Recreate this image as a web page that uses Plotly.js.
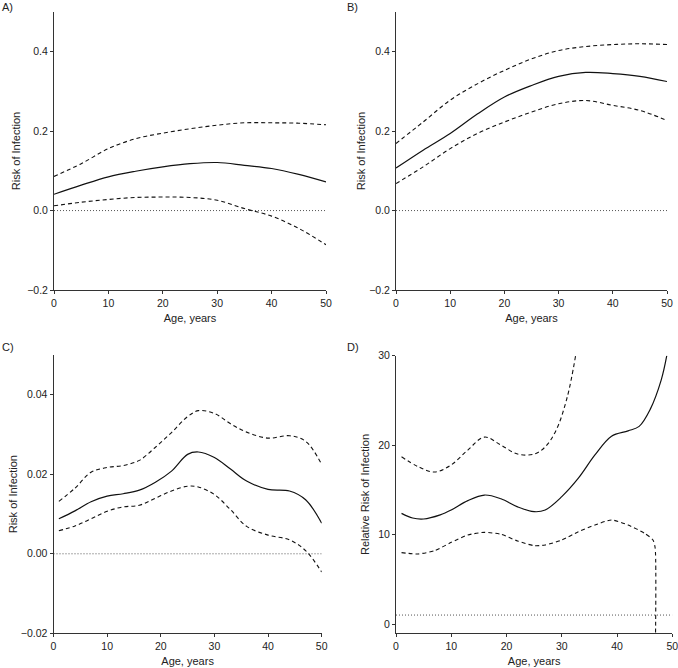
<!DOCTYPE html>
<html>
<head>
<meta charset="utf-8">
<script src="https://cdn.plot.ly/plotly-3.0.1.min.js"></script>
<style>html,body{margin:0;padding:0;background:#fff;}#chart{width:678px;height:668px;}</style>
</head>
<body>
<div id="chart"></div>
<script>
// ---- Panel A ----
const agesA = [0,5,10,15,20,25,30,35,40,45,50];
const estA  = [0.041,0.064,0.085,0.099,0.110,0.118,0.121,0.114,0.106,0.091,0.072];
const upA   = [0.086,0.118,0.156,0.181,0.195,0.206,0.215,0.221,0.221,0.220,0.216];
const loA   = [0.012,0.021,0.028,0.033,0.034,0.033,0.026,0.005,-0.014,-0.045,-0.086];
// ---- Panel B ----
const agesB = [0,5,10,15,20,25,30,35,40,45,50];
const estB  = [0.107,0.152,0.194,0.243,0.286,0.315,0.338,0.348,0.345,0.338,0.325];
const upB   = [0.169,0.223,0.278,0.319,0.353,0.382,0.403,0.413,0.418,0.420,0.418];
const loB   = [0.068,0.110,0.156,0.194,0.223,0.248,0.269,0.277,0.265,0.252,0.227];
// ---- Panel C ----
const agesC = [1,4,7,10,13,16,19,22,25,27,30,33,36,40,44,47,50];
const estC  = [0.0088,0.0108,0.0131,0.0145,0.0151,0.0160,0.0180,0.0208,0.0250,0.0256,0.0242,0.0213,0.0183,0.0162,0.0158,0.0136,0.0077];
const upC   = [0.0132,0.0165,0.0205,0.0217,0.0222,0.0235,0.0268,0.0305,0.0345,0.0360,0.0353,0.0327,0.0306,0.0291,0.0297,0.0283,0.0225];
const loC   = [0.0058,0.0070,0.0088,0.0107,0.0118,0.0122,0.0140,0.0158,0.0170,0.0168,0.0149,0.0111,0.0069,0.0047,0.0035,0.0008,-0.0046];
// ---- Panel D ----
const agesDest = [1,3,5,8,10,13,16,19,22,25,27,30,33,36,39,42,44,46,48,49];
const estD     = [12.37,11.85,11.74,12.2,12.75,13.8,14.42,14.0,13.1,12.56,12.75,14.24,16.3,18.9,21.0,21.6,22.1,24.0,27.3,30.0];
const agesDup  = [1,4,7,10,13,16,19,22,25,27,29,31,32.5];
const upD      = [18.7,17.6,17.0,17.8,19.45,20.9,20.0,19.0,19.0,19.8,21.7,25.4,30.0];
const agesDlo  = [1,4,7,10,13,16,19,22,25,27,30,33,36,39,42,45,46.5,46.9,46.9];
const loD      = [7.98,7.83,8.2,9.13,9.95,10.25,10.03,9.28,8.76,8.83,9.39,10.32,11.07,11.63,11.07,10.14,9.4,8.5,-5];
// reference lines
const refX = [0,50];
const refRisk = [0,0];
const refRR = [1,1];

const xTicks = [0,10,20,30,40,50];
const yTicksAB = [-0.2,0.0,0.2,0.4];
const yTickTextAB = ['\u22120.2','0.0','0.2','0.4'];
const yTicksC = [-0.02,0.00,0.02,0.04];
const yTickTextC = ['\u22120.02','0.00','0.02','0.04'];
const yTicksD = [0,10,20,30];

const FONT = 'Liberation Sans, Arial, sans-serif';
const solid = {color:'#111', width:1.2, shape:'spline', smoothing:1};
const dashed = {color:'#111', width:1.1, dash:'4px,3px', shape:'spline', smoothing:1};
const dotted = {color:'#555', width:1, dash:'1px,2px'};

function panel(xa, ya, x, est) {
  return [
    {x:refX, y:(ya==='y4'?refRR:refRisk), xaxis:xa, yaxis:ya, mode:'lines', line:dotted, hoverinfo:'skip'},
    {x:x, y:est, xaxis:xa, yaxis:ya, mode:'lines', line:solid},
  ];
}
const traces = [
  ...panel('x','y',agesA,estA),
  {x:agesA,y:upA,xaxis:'x',yaxis:'y',mode:'lines',line:dashed},
  {x:agesA,y:loA,xaxis:'x',yaxis:'y',mode:'lines',line:dashed},
  ...panel('x2','y2',agesB,estB),
  {x:agesB,y:upB,xaxis:'x2',yaxis:'y2',mode:'lines',line:dashed},
  {x:agesB,y:loB,xaxis:'x2',yaxis:'y2',mode:'lines',line:dashed},
  ...panel('x3','y3',agesC,estC),
  {x:agesC,y:upC,xaxis:'x3',yaxis:'y3',mode:'lines',line:dashed},
  {x:agesC,y:loC,xaxis:'x3',yaxis:'y3',mode:'lines',line:dashed},
  ...panel('x4','y4',agesDest,estD),
  {x:agesDup,y:upD,xaxis:'x4',yaxis:'y4',mode:'lines',line:dashed},
  {x:agesDlo,y:loD,xaxis:'x4',yaxis:'y4',mode:'lines',line:Object.assign({},dashed,{smoothing:0.6})},
];

const W = 678, H = 668;
function dx(a,b){return [a/W, b/W];}
function dy(top,bottom){return [1-bottom/H, 1-top/H];}

function xaxis(domain, anchor){
  return {domain:domain, anchor:anchor, range:[0,50], tickvals:xTicks, showline:true, linecolor:'#333', linewidth:1,
    ticks:'outside', ticklen:3, tickcolor:'#333', showgrid:false, zeroline:false, ticklabeloverflow:'allow',
    tickfont:{family:FONT,size:10.5,color:'#222'},
    title:{text:'Age, years', font:{family:FONT,size:11,color:'#222'}, standoff:6}};
}
function yaxis(domain, anchor, range, tv, tt, title, standoff){
  const o = {domain:domain, anchor:anchor, range:range, tickvals:tv, showline:true, linecolor:'#333', linewidth:1,
    ticks:'outside', ticklen:3, tickcolor:'#333', showgrid:false, zeroline:false,
    tickfont:{family:FONT,size:10.5,color:'#222'},
    title:{text:title, font:{family:FONT,size:11,color:'#222'}, standoff:standoff}};
  if (tt) o.ticktext = tt;
  return o;
}

const layout = {
  width:W, height:H, margin:{l:0,r:0,t:0,b:0}, showlegend:false,
  paper_bgcolor:'#fff', plot_bgcolor:'#fff',
  xaxis:  xaxis(dx(54,326),'y'),
  yaxis:  yaxis(dy(12,290),'x',[-0.2,0.5],yTicksAB,yTickTextAB,'Risk of Infection',4),
  xaxis2: xaxis(dx(396,667),'y2'),
  yaxis2: yaxis(dy(12,290),'x2',[-0.2,0.5],yTicksAB,yTickTextAB,'Risk of Infection',1),
  xaxis3: xaxis(dx(53.5,321.7),'y3'),
  yaxis3: yaxis(dy(355,633.3),'x3',[-0.02,0.05],yTicksC,yTickTextC,'Risk of Infection',0),
  xaxis4: xaxis(dx(396,672.3),'y4'),
  yaxis4: yaxis(dy(355.7,633.3),'x4',[-1.04,30],yTicksD,null,'Relative Risk of Infection',6),
  annotations:[
    {text:'A)', xref:'paper', yref:'paper', x:0/W, y:1-7/H, xanchor:'left', yanchor:'middle', showarrow:false, font:{family:FONT,size:11,color:'#222'}},
    {text:'B)', xref:'paper', yref:'paper', x:345/W, y:1-7/H, xanchor:'left', yanchor:'middle', showarrow:false, font:{family:FONT,size:11,color:'#222'}},
    {text:'C)', xref:'paper', yref:'paper', x:0/W, y:1-347/H, xanchor:'left', yanchor:'middle', showarrow:false, font:{family:FONT,size:11,color:'#222'}},
    {text:'D)', xref:'paper', yref:'paper', x:345/W, y:1-347/H, xanchor:'left', yanchor:'middle', showarrow:false, font:{family:FONT,size:11,color:'#222'}}
  ]
};

Plotly.newPlot('chart', traces, layout, {staticPlot:true, displayModeBar:false});
</script>
</body>
</html>
